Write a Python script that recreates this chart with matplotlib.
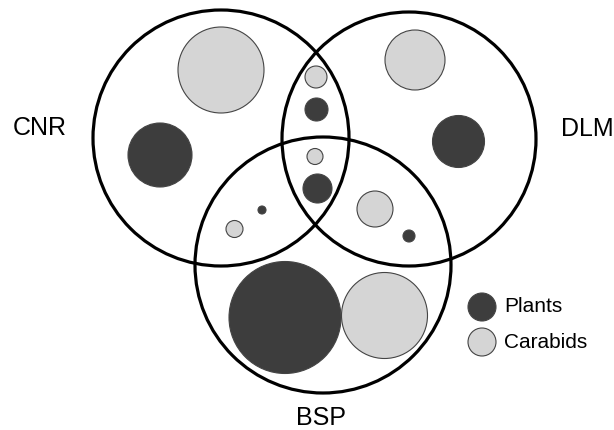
import matplotlib.pyplot as plt
from matplotlib.patches import Circle

plt.rcParams['font.family'] = ['Liberation Sans', 'DejaVu Sans']

# Sites (big Venn circles): name, centre x, centre y, radius (pixel units)
site_names = ["CNR", "DLM", "BSP"]
site_x = [221, 409, 323]
site_y = [138, 139, 265]
site_r = [128, 127, 128]

# Bubbles: group, centre x, centre y, radius
bubble_group = ["Carabids", "Plants",            # CNR only
                "Carabids", "Plants",            # DLM only
                "Carabids", "Plants",            # CNR & DLM
                "Carabids", "Plants",            # all three
                "Carabids", "Plants",            # CNR & BSP
                "Carabids", "Plants",            # DLM & BSP
                "Plants", "Carabids"]            # BSP only
bubble_x = [221, 160, 415, 458.5, 316, 316.5, 315, 317.5, 234.5, 262, 375, 409, 285, 384.5]
bubble_y = [70, 155, 60, 141.5, 77, 109.5, 156.5, 188.5, 229, 210, 209, 236, 317.5, 315.5]
bubble_r = [43, 32, 30, 26, 11, 11.5, 8, 14.5, 8.5, 4, 18, 6, 56, 43]

colors = {"Plants": "#3d3d3d", "Carabids": "#d5d5d5"}

fig = plt.figure(figsize=(6.14, 4.30), dpi=100)
ax = fig.add_axes([0, 0, 1, 1])
ax.set_xlim(0, 614)
ax.set_ylim(430, 0)
ax.set_aspect('equal')
ax.axis('off')

for g, x, y, r in zip(bubble_group, bubble_x, bubble_y, bubble_r):
    ax.add_patch(Circle((x, y), r, facecolor=colors[g], edgecolor="#444444",
                        linewidth=0.8, zorder=2))

for x, y, r in zip(site_x, site_y, site_r):
    ax.add_patch(Circle((x, y), r, facecolor="none", edgecolor="black",
                        linewidth=2.3, zorder=3))

ax.text(40, 128, "CNR", fontsize=18, ha="center", va="center")
ax.text(561, 129, "DLM", fontsize=18, ha="left", va="center")
ax.text(321, 418, "BSP", fontsize=18, ha="center", va="center")

# legend
for i, g in enumerate(["Plants", "Carabids"]):
    ly = 307 + i * 35
    ax.add_patch(Circle((482, ly), 14, facecolor=colors[g], edgecolor="#444444",
                        linewidth=0.8))
    ax.text(504, ly, g, fontsize=15, ha="left", va="center")

fig.savefig("out.png", dpi=100)
